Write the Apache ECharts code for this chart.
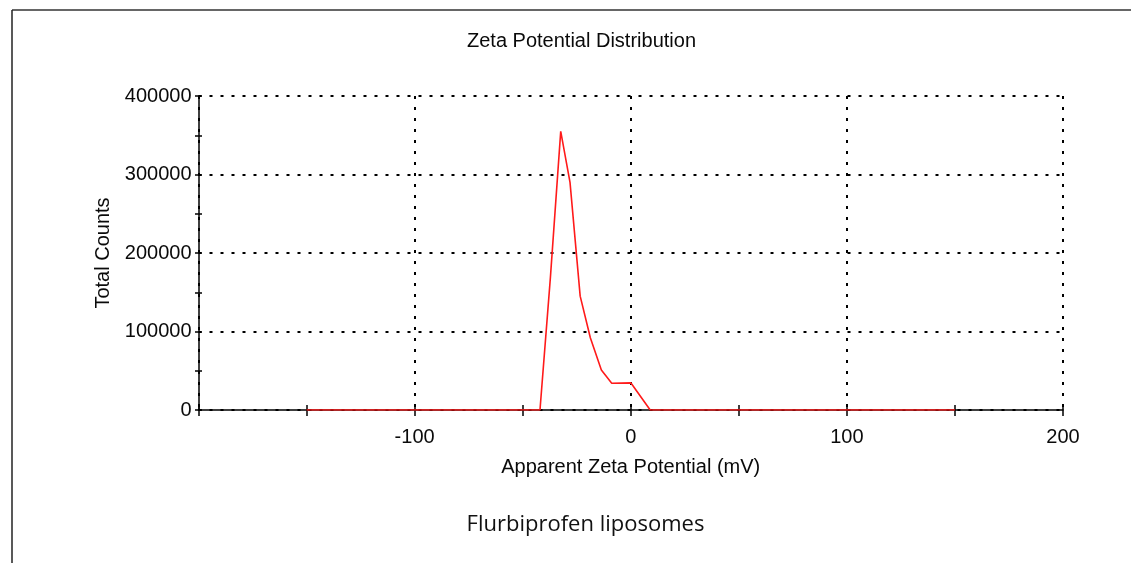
<!DOCTYPE html>
<html>
<head>
<meta charset="utf-8">
<script src="https://cdn.jsdelivr.net/npm/echarts@6/dist/echarts.min.js"></script>
<style>
html,body{margin:0;padding:0;background:#fff;}
#c{width:1131px;height:563px;}
</style>
</head>
<body>
<div id="c"></div>
<script>
// Data
const zetaMv = [-150, -42.0, -37.2, -32.4, -28.1, -23.4, -18.7, -13.6, -8.8, 0.1, 9.0, 150];
const totalCounts = [0, 0, 168000, 355000, 290000, 145000, 92000, 51000, 34000, 34500, 0, 0];
const xTicks = [-200, -100, 0, 100, 200];
const yTicks = [0, 100000, 200000, 300000, 400000];

const chartTitle = 'Zeta Potential Distribution';
const xName = 'Apparent Zeta Potential (mV)';
const yName = 'Total Counts';
const caption = 'Flurbiprofen liposomes';

const FONT = '"Liberation Sans", Arial, sans-serif';
const FS = 20;
const TXT = '#0a0a0a';
const grid = {left: 198.5, right: 68, top: 96, bottom: 153};
const dotted = {color: '#000', width: 2, type: [3, 8]};
const axisLineStyle = {color: '#000', width: 1.5};

const chart = echarts.init(document.getElementById('c'), null, {renderer: 'canvas'});

const xBase = {type: 'value', min: xTicks[0], max: xTicks[xTicks.length - 1], position: 'bottom', gridIndex: 0};
const yBase = {type: 'value', min: yTicks[0], max: yTicks[yTicks.length - 1], position: 'left', gridIndex: 0};

chart.setOption({
  animation: false,
  backgroundColor: '#fff',
  title: {
    text: chartTitle, left: 462, top: 26,
    textStyle: {fontFamily: FONT, fontSize: FS, fontWeight: 'normal', color: TXT}
  },
  grid: grid,
  xAxis: [
    Object.assign({}, xBase, {
      interval: 50,
      name: xName, nameLocation: 'middle', nameGap: 47,
      nameTextStyle: {fontFamily: FONT, fontSize: FS, color: TXT},
      axisLine: {show: true, onZero: false, lineStyle: axisLineStyle},
      axisTick: {show: true, length: 6, lineStyle: axisLineStyle},
      axisLabel: {
        fontFamily: FONT, fontSize: FS, color: TXT, margin: 17,
        formatter: v => (v % 100 === 0 && v !== xTicks[0]) ? String(v) : ''
      },
      splitLine: {show: false}
    }),
    Object.assign({}, xBase, {
      interval: 100,
      axisLine: {show: false, onZero: false}, axisTick: {show: false}, axisLabel: {show: false},
      splitLine: {show: true, lineStyle: dotted}
    }),
    Object.assign({}, xBase, {
      interval: 50,
      axisLine: {show: false, onZero: false}, axisLabel: {show: false},
      axisTick: {show: true, inside: true, length: 5, lineStyle: axisLineStyle},
      splitLine: {show: false}
    })
  ],
  yAxis: [
    Object.assign({}, yBase, {
      interval: 50000,
      name: yName, nameLocation: 'middle', nameGap: 84,
      nameTextStyle: {fontFamily: FONT, fontSize: FS, color: TXT},
      axisLine: {show: true, onZero: false, lineStyle: axisLineStyle},
      axisTick: {show: true, length: 3.5, lineStyle: axisLineStyle},
      axisLabel: {
        fontFamily: FONT, fontSize: FS, color: TXT, margin: 7,
        formatter: v => (v % 100000 === 0) ? String(v) : ''
      },
      splitLine: {show: false}
    }),
    Object.assign({}, yBase, {
      interval: 100000,
      axisLine: {show: false, onZero: false}, axisTick: {show: false}, axisLabel: {show: false},
      splitLine: {show: true, lineStyle: dotted}
    }),
    Object.assign({}, yBase, {
      interval: 50000,
      axisLine: {show: false, onZero: false}, axisLabel: {show: false},
      axisTick: {show: true, inside: true, length: 3.5, lineStyle: axisLineStyle},
      splitLine: {show: false}
    })
  ],
  series: [{
    type: 'line',
    xAxisIndex: 0, yAxisIndex: 0,
    data: zetaMv.map((x, i) => [x, totalCounts[i]]),
    showSymbol: false,
    lineStyle: {color: '#ff1a1a', width: 1.6},
    z: 5
  }],
  graphic: [
    {type: 'line', shape: {x1: 12, y1: 10, x2: 1131, y2: 10}, style: {stroke: '#333', lineWidth: 1.5}},
    {type: 'line', shape: {x1: 12, y1: 10, x2: 12, y2: 563}, style: {stroke: '#222', lineWidth: 1.5}},
    {type: 'text', x: 585.5, y: 514,
     style: {text: caption, font: '22px "Open Sans", sans-serif', fill: '#111', textAlign: 'center'}}
  ]
});
</script>
</body>
</html>
